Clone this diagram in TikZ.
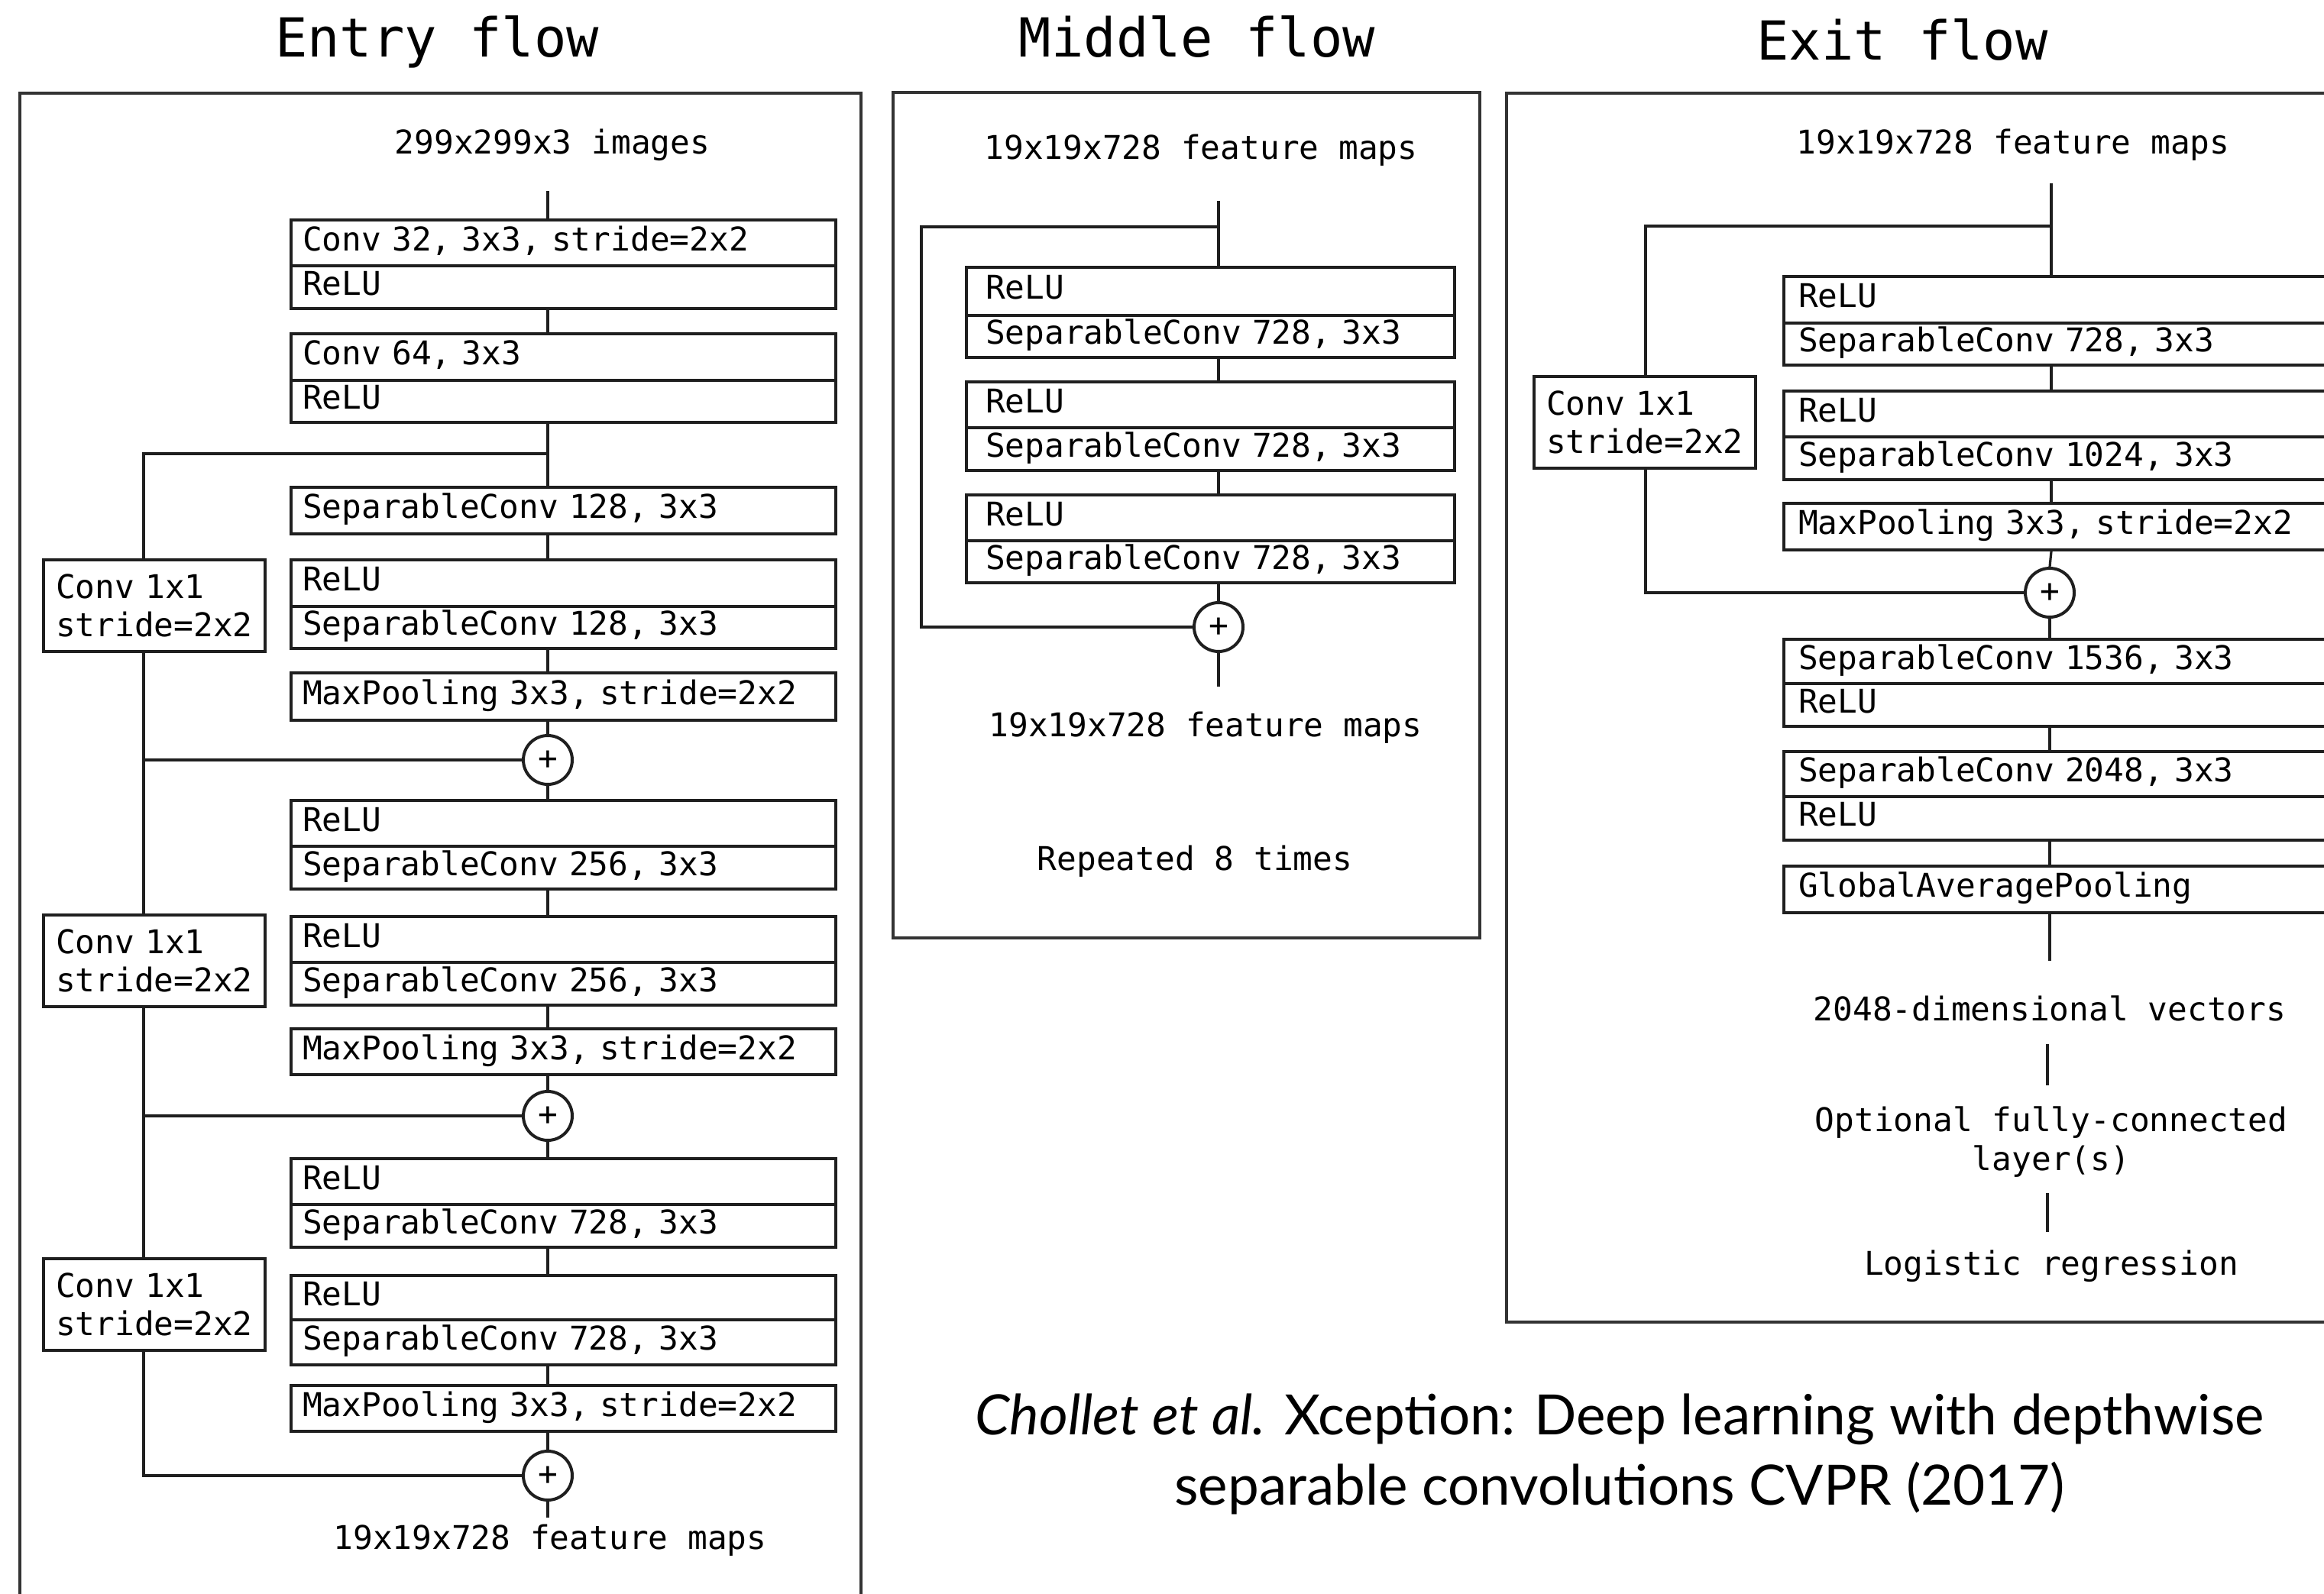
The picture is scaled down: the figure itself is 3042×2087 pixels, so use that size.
\documentclass[tikz,border=0pt]{standalone}
\usepackage{fontspec}
\newfontfamily\monof{DejaVu Sans Mono}
\newfontfamily\capfont{Lato}
\newlength\pxu
\setlength\pxu{0.25pt}
\newcommand\boxfnt{\fontsize{10.7pt}{12.6pt}\selectfont\monof}
\newcommand\ttlfnt{\fontsize{17.6pt}{20pt}\selectfont\monof}
\begin{document}
\begin{tikzpicture}[x=0.25pt, y=-0.25pt,
  ln/.style={line width=0.8pt, draw=black!88},
  frame/.style={line width=1pt, draw=black!80},
  cell/.style={draw=black!88, line width=1pt, rectangle, anchor=north west, inner ysep=0pt, align=left, font=\boxfnt, text height=1.6ex, text depth=0.4ex},
  ecell/.style={cell, inner xsep=15\pxu, text width=683\pxu},
  mcell/.style={cell, inner xsep=25\pxu, text width=589\pxu},
  xcell/.style={cell, inner xsep=19\pxu, text width=800\pxu},
  ccell/.style={draw=black!88, line width=1pt, rectangle, anchor=north west, inner xsep=16\pxu, inner ysep=0pt, text width=258\pxu, align=left, font=\boxfnt, minimum height=120\pxu},
  plus/.style={draw=black!88, line width=1pt, circle, minimum size=64\pxu, inner sep=0pt, font=\boxfnt},
  lbl/.style={font=\boxfnt, inner sep=0pt},
  ttl/.style={font=\ttlfnt, inner sep=0pt}]
\useasboundingbox (0,0) rectangle (3042,2087);
\clip (0,0) rectangle (3042,2087);
\fill[white] (0,0) rectangle (3042,2087);

% ---------------- Titles ----------------
\node[ttl] (tEntry) at (572,55) {Entry flow};
\node[ttl] (tMid) at (1567,48) {Middle flow};
\node[ttl] (tExit) at (2490,52) {Exit flow};

% ---------------- Frames ----------------
\draw[frame] (26,122) rectangle (1127,2140);
\draw[frame] (1169,121) rectangle (1937,1228);
\draw[frame] (1972,122) rectangle (3120,1731);

% ---------------- Entry flow ----------------
\node[lbl] (ein) at (723,190) {299x299x3 images};
\coordinate (etop) at (717,250);
\coordinate (ej) at (717,594);
\coordinate (lx) at (188,594);
\node[ecell, minimum height=60\pxu] (e1a) at (379,286) {Conv 32, 3x3, stride=2x2};
\node[ecell, minimum height=56\pxu] (e1b) at (379,346) {ReLU};
\node[ecell, minimum height=61\pxu] (e2a) at (379,435) {Conv 64, 3x3};
\node[ecell, minimum height=55\pxu] (e2b) at (379,496) {ReLU};
\node[ecell, minimum height=61\pxu] (e3) at (379,636) {SeparableConv 128, 3x3};
\node[ecell, minimum height=61\pxu] (e4a) at (379,731) {ReLU};
\node[ecell, minimum height=55\pxu] (e4b) at (379,792) {SeparableConv 128, 3x3};
\node[ecell, minimum height=62\pxu] (e5) at (379,879) {MaxPooling 3x3, stride=2x2};
\node[plus] (p1) at (717,995) {+};
\node[ecell, minimum height=60\pxu] (e6a) at (379,1046) {ReLU};
\node[ecell, minimum height=56\pxu] (e6b) at (379,1106) {SeparableConv 256, 3x3};
\node[ecell, minimum height=60\pxu] (e7a) at (379,1198) {ReLU};
\node[ecell, minimum height=56\pxu] (e7b) at (379,1258) {SeparableConv 256, 3x3};
\node[ecell, minimum height=60\pxu] (e8) at (379,1345) {MaxPooling 3x3, stride=2x2};
\node[plus] (p2) at (717,1461) {+};
\node[ecell, minimum height=60\pxu] (e9a) at (379,1515) {ReLU};
\node[ecell, minimum height=56\pxu] (e9b) at (379,1575) {SeparableConv 728, 3x3};
\node[ecell, minimum height=58\pxu] (e10a) at (379,1668) {ReLU};
\node[ecell, minimum height=59\pxu] (e10b) at (379,1726) {SeparableConv 728, 3x3};
\node[ecell, minimum height=60\pxu] (e11) at (379,1812) {MaxPooling 3x3, stride=2x2};
\node[plus] (p3) at (717,1932) {+};
\coordinate (eend) at (717,1987);
\node[lbl] (eout) at (720,2017) {19x19x728 feature maps};
\node[ccell] (c1) at (55,731) {Conv 1x1\\stride=2x2};
\node[ccell] (c2) at (55,1196) {Conv 1x1\\stride=2x2};
\node[ccell] (c3) at (55,1646) {Conv 1x1\\stride=2x2};

\draw[ln] (etop) -- (etop |- e1a.north);
\draw[ln] (etop |- e1b.south) -- (etop |- e2a.north);
\draw[ln] (etop |- e2b.south) -- (etop |- e3.north);
\draw[ln] (ej) -- (lx) -- (lx |- c1.north);
\draw[ln] (etop |- e3.south) -- (etop |- e4a.north);
\draw[ln] (etop |- e4b.south) -- (etop |- e5.north);
\draw[ln] (etop |- e5.south) -- (p1.north);
\draw[ln] (p1.south) -- (etop |- e6a.north);
\draw[ln] (etop |- e6b.south) -- (etop |- e7a.north);
\draw[ln] (etop |- e7b.south) -- (etop |- e8.north);
\draw[ln] (etop |- e8.south) -- (p2.north);
\draw[ln] (p2.south) -- (etop |- e9a.north);
\draw[ln] (etop |- e9b.south) -- (etop |- e10a.north);
\draw[ln] (etop |- e10b.south) -- (etop |- e11.north);
\draw[ln] (etop |- e11.south) -- (p3.north);
\draw[ln] (p3.south) -- (eend);
\draw[ln] (lx |- c1.south) -- (lx |- c2.north);
\draw[ln] (lx |- p1) -- (p1.west);
\draw[ln] (lx |- c2.south) -- (lx |- c3.north);
\draw[ln] (lx |- p2) -- (p2.west);
\draw[ln] (lx |- c3.south) |- (p3.west);

% ---------------- Middle flow ----------------
\node[lbl] (min) at (1572,197) {19x19x728 feature maps};
\coordinate (mtop) at (1595,263);
\coordinate (mj) at (1595,297);
\coordinate (ml) at (1206,297);
\node[mcell, minimum height=63\pxu] (m1a) at (1263,348) {ReLU};
\node[mcell, minimum height=55\pxu] (m1b) at (1263,411) {SeparableConv 728, 3x3};
\node[mcell, minimum height=60\pxu] (m2a) at (1263,498) {ReLU};
\node[mcell, minimum height=56\pxu] (m2b) at (1263,558) {SeparableConv 728, 3x3};
\node[mcell, minimum height=60\pxu] (m3a) at (1263,646) {ReLU};
\node[mcell, minimum height=55\pxu] (m3b) at (1263,706) {SeparableConv 728, 3x3};
\node[plus] (mp) at (1595,821) {+};
\coordinate (mend) at (1595,899);
\node[lbl] (mout) at (1578,953) {19x19x728 feature maps};
\node[lbl] (mrep) at (1564,1128) {Repeated 8 times};

\draw[ln] (mtop) -- (mtop |- m1a.north);
\draw[ln] (mj) -- (ml) |- (mp.west);
\draw[ln] (mtop |- m1b.south) -- (mtop |- m2a.north);
\draw[ln] (mtop |- m2b.south) -- (mtop |- m3a.north);
\draw[ln] (mtop |- m3b.south) -- (mp.north);
\draw[ln] (mp.south) -- (mend);

% ---------------- Exit flow ----------------
\node[lbl] (xin) at (2635,190) {19x19x728 feature maps};
\coordinate (xtop) at (2685,240);
\coordinate (xj) at (2685,296);
\coordinate (xl) at (2154,296);
\node[xcell, minimum height=61\pxu] (x1a) at (2333,360) {ReLU};
\node[xcell, minimum height=55\pxu] (x1b) at (2333,421) {SeparableConv 728, 3x3};
\node[xcell, minimum height=60\pxu] (x2a) at (2333,510) {ReLU};
\node[xcell, minimum height=56\pxu] (x2b) at (2333,570) {SeparableConv 1024, 3x3};
\node[xcell, minimum height=61\pxu] (x3) at (2333,657) {MaxPooling 3x3, stride=2x2};
\node[plus] (xp) at (2683,776) {+};
\node[xcell, minimum height=58\pxu] (x4a) at (2333,835) {SeparableConv 1536, 3x3};
\node[xcell, minimum height=56\pxu] (x4b) at (2333,893) {ReLU};
\node[xcell, minimum height=59\pxu] (x5a) at (2333,982) {SeparableConv 2048, 3x3};
\node[xcell, minimum height=57\pxu] (x5b) at (2333,1041) {ReLU};
\node[xcell, minimum height=61\pxu] (x6) at (2333,1132) {GlobalAveragePooling};
\coordinate (xg) at (2683,1258);
\node[lbl] (xvec) at (2683,1320) {2048-dimensional vectors};
\coordinate (xv1) at (2680,1367);
\coordinate (xv2) at (2680,1421);
\node[lbl, align=center, font=\fontsize{10.7pt}{12.75pt}\selectfont\monof] (xfc) at (2685,1495) {Optional fully-connected\\layer(s)};
\coordinate (xf1) at (2680,1562);
\coordinate (xf2) at (2680,1613);
\node[lbl] (xlog) at (2685,1658) {Logistic regression};
\node[ccell] (xc) at (2006,491) {Conv 1x1\\stride=2x2};

\draw[ln] (xtop) -- (xtop |- x1a.north);
\draw[ln] (xj) -- (xl) -- (xl |- xc.north);
\draw[ln] (xl |- xc.south) |- (xp.west);
\draw[ln] (xtop |- x1b.south) -- (xtop |- x2a.north);
\draw[ln] (xtop |- x2b.south) -- (xtop |- x3.north);
\draw[ln] (xtop |- x3.south) -- (xp.north);
\draw[ln] (xp.south) -- (xp |- x4a.north);
\draw[ln] (xp |- x4b.south) -- (xp |- x5a.north);
\draw[ln] (xp |- x5b.south) -- (xp |- x6.north);
\draw[ln] (xp |- x6.south) -- (xg);
\draw[ln] (xv1) -- (xv2);
\draw[ln] (xf1) -- (xf2);

% ---------------- Caption ----------------
\node[align=center, inner sep=0pt, font=\fontsize{18.2pt}{23pt}\selectfont\capfont] (cap) at (2120,1904)
  {\textit{Chollet et al.} Xception: Deep learning with depthwise\\separable convolutions CVPR (2017)};
\end{tikzpicture}
\end{document}
